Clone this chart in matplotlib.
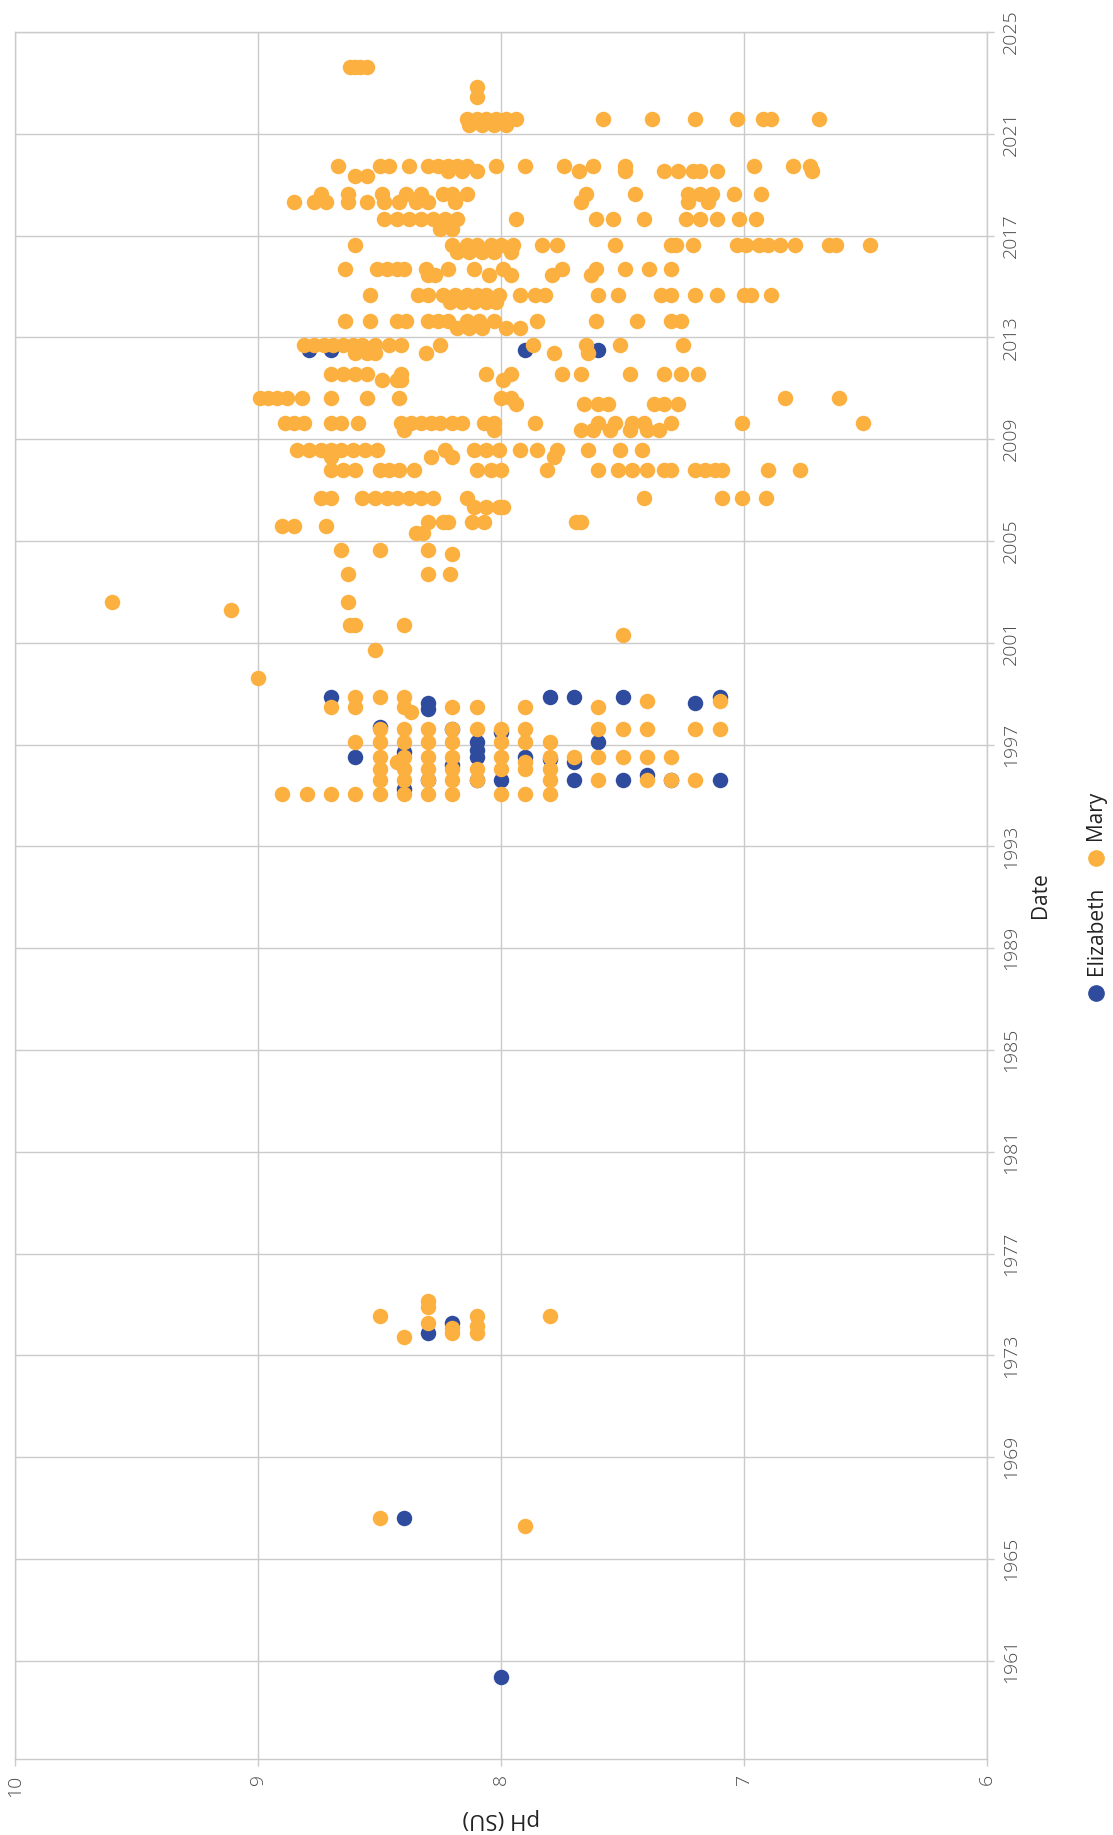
import numpy as np
import matplotlib.pyplot as plt
from matplotlib.lines import Line2D

# sampling dates (decimal years) and pH readings per date
mary_row_dates = [
    2023.62, 2022.84, 2022.44, 2021.59, 2021.33, 2019.72, 2019.52, 2019.36,
    2018.64, 2018.31, 2017.66, 2017.26, 2016.65, 2016.35, 2015.68, 2015.45,
    2014.67, 2014.40, 2013.64, 2013.35, 2012.70, 2012.37, 2011.58, 2011.32,
    2010.60, 2010.40, 2009.62, 2009.35, 2008.59, 2008.30, 2007.78, 2006.70,
    2006.35, 2005.76, 2005.60, 2005.30, 2004.63, 2004.48, 2003.69, 2002.59,
    2002.29, 2001.68, 2001.31, 2000.70, 1999.63,
    1998.87, 1998.70, 1998.48, 1998.30, 1997.63, 1997.10, 1996.52, 1996.30,
    1996.06, 1995.60, 1995.07,
    1975.15, 1974.89, 1974.53, 1974.27, 1974.14, 1974.07, 1973.88, 1973.71,
    1966.60, 1966.28,
]
mary_row_ph = [
    [8.62, 8.60, 8.58, 8.55],
    [8.10],
    [8.10],
    [8.14, 8.10, 8.06, 8.02, 7.98, 7.94, 7.58, 7.38, 7.20, 7.03, 6.92, 6.89, 6.69],
    [8.13, 8.08, 8.03, 7.98],
    [8.67, 8.50, 8.46, 8.38, 8.30, 8.26, 8.22, 8.18, 8.14, 8.02, 7.90, 7.74, 7.62, 7.49, 6.96, 6.80, 6.73],
    [8.22, 8.16, 8.10, 7.68, 7.49, 7.33, 7.27, 7.21, 7.18, 7.11, 6.72],
    [8.60, 8.55],
    [8.74, 8.63, 8.49, 8.39, 8.33, 8.24, 8.20, 8.14, 7.65, 7.45, 7.23, 7.18, 7.13, 7.04, 6.93],
    [8.85, 8.77, 8.72, 8.63, 8.55, 8.48, 8.42, 8.35, 8.30, 8.19, 7.67, 7.23, 7.15],
    [8.48, 8.43, 8.38, 8.33, 8.28, 8.23, 8.18, 7.94, 7.61, 7.54, 7.41, 7.24, 7.18, 7.11, 7.02, 6.95],
    [8.25, 8.20],
    [8.60, 8.20, 8.14, 8.10, 8.04, 8.00, 7.95, 7.83, 7.77, 7.53, 7.30, 7.28, 7.21, 7.03, 6.99, 6.94,
     6.90, 6.85, 6.79, 6.65, 6.62, 6.48],
    [8.18, 8.13, 8.08, 8.03, 7.96],
    [8.64, 8.51, 8.47, 8.43, 8.40, 8.31, 8.22, 8.11, 7.99, 7.75, 7.61, 7.49, 7.39, 7.30],
    [8.30, 8.27, 8.05, 7.96, 7.79, 7.63],
    [8.54, 8.34, 8.30, 8.24, 8.19, 8.14, 8.10, 8.06, 8.01, 7.92, 7.86, 7.82, 7.60, 7.52, 7.34, 7.30,
     7.20, 7.11, 7.00, 6.97, 6.89],
    [8.21, 8.16, 8.11, 8.06, 8.02],
    [8.64, 8.54, 8.43, 8.39, 8.30, 8.26, 8.22, 8.14, 8.09, 8.03, 7.85, 7.61, 7.44, 7.30, 7.26],
    [8.18, 8.13, 8.08, 7.98, 7.92],
    [8.81, 8.77, 8.73, 8.69, 8.65, 8.61, 8.57, 8.52, 8.46, 8.41, 8.25, 7.87, 7.65, 7.51, 7.25],
    [8.60, 8.55, 8.52, 8.31, 7.78, 7.64],
    [8.70, 8.65, 8.60, 8.55, 8.41, 8.06, 7.96, 7.75, 7.67, 7.47, 7.33, 7.26, 7.19],
    [8.49, 8.43, 8.41, 7.99],
    [8.99, 8.96, 8.92, 8.88, 8.82, 8.70, 8.55, 8.42, 8.00, 7.96, 6.83, 6.61],
    [7.94, 7.66, 7.60, 7.56, 7.37, 7.33, 7.27],
    [8.89, 8.85, 8.81, 8.70, 8.66, 8.59, 8.41, 8.37, 8.33, 8.29, 8.25, 8.20, 8.16, 8.07, 8.03, 7.86,
     7.60, 7.53, 7.46, 7.41, 7.30, 7.01, 6.51],
    [8.40, 8.03, 7.67, 7.62, 7.55, 7.47, 7.40, 7.35],
    [8.84, 8.79, 8.74, 8.70, 8.66, 8.61, 8.56, 8.51, 8.23, 8.11, 8.06, 8.01, 7.92, 7.85, 7.77, 7.64,
     7.51, 7.42],
    [8.70, 8.29, 8.20, 7.78],
    [8.70, 8.65, 8.60, 8.50, 8.46, 8.42, 8.36, 8.10, 8.04, 8.00, 7.81, 7.60, 7.52, 7.46, 7.40, 7.33,
     7.30, 7.20, 7.16, 7.12, 7.09, 6.90, 6.77],
    [8.74, 8.70, 8.57, 8.52, 8.47, 8.43, 8.38, 8.33, 8.28, 8.14, 7.41, 7.09, 7.01, 6.91],
    [8.11, 8.06, 8.01, 7.99],
    [8.30, 8.24, 8.22, 8.12, 8.07, 7.69, 7.67],
    [8.90, 8.85, 8.72],
    [8.35, 8.32],
    [8.66, 8.50, 8.30],
    [8.20],
    [8.63, 8.30, 8.21],
    [9.60, 8.63],
    [9.11],
    [8.62, 8.60, 8.40],
    [7.50],
    [8.52],
    [9.00],
    [8.60, 8.50, 8.40],
    [7.40, 7.10],
    [8.70, 8.60, 8.40, 8.20, 8.10, 7.90, 7.60],
    [8.37],
    [8.50, 8.40, 8.30, 8.20, 8.10, 8.00, 7.90, 7.60, 7.50, 7.40, 7.20, 7.10],
    [8.60, 8.50, 8.40, 8.30, 8.20, 8.00, 7.90, 7.80],
    [8.50, 8.40, 8.30, 8.20, 8.00, 7.80, 7.70, 7.60, 7.50, 7.40, 7.30],
    [8.43, 7.90],
    [8.50, 8.40, 8.30, 8.20, 8.10, 8.00, 7.90, 7.80],
    [8.50, 8.40, 8.30, 8.20, 8.10, 7.80, 7.60, 7.40, 7.30, 7.20],
    [8.90, 8.80, 8.70, 8.60, 8.50, 8.40, 8.30, 8.20, 8.00, 7.90, 7.80],
    [8.30],
    [8.30],
    [8.50, 8.10, 7.80],
    [8.30],
    [8.10],
    [8.20],
    [8.20, 8.10],
    [8.40],
    [8.50],
    [7.90],
]

elizabeth_row_dates = [
    2012.50, 1998.87, 1998.65, 1998.40, 1997.70, 1997.63, 1997.50, 1997.10,
    1996.80, 1996.70, 1996.52, 1996.45, 1996.30, 1996.20, 1995.80, 1995.60,
    1995.25, 1974.27, 1973.88, 1966.60, 1960.36,
]
elizabeth_row_ph = [
    [8.79, 8.70, 7.90, 7.60],
    [8.70, 7.80, 7.70, 7.50, 7.10],
    [8.30, 7.20],
    [8.30],
    [8.50],
    [8.20],
    [8.00],
    [8.10, 7.60],
    [8.10],
    [8.40],
    [8.60, 8.10, 7.90],
    [7.80],
    [7.70],
    [8.20],
    [7.40],
    [8.30, 8.10, 8.00, 7.70, 7.50, 7.30, 7.10],
    [8.40],
    [8.20],
    [8.30],
    [8.40],
    [8.00],
]

year_ticks = list(range(1961, 2026, 4))
ph_ticks = [10, 9, 8, 7, 6]

MARY_COLOR = "#FBB040"
ELIZ_COLOR = "#2F4B9D"
GRID = "#cbcbcb"
W, H = 1113, 1835


def expand(dates, rows):
    xs, ys = [], []
    for d, vals in zip(dates, rows):
        for v in vals:
            xs.append(v)
            ys.append(d)
    return np.array(xs), np.array(ys)


def main():
    plt.rcParams["font.family"] = ["Open Sans", "DejaVu Sans"]
    fig = plt.figure(figsize=(W / 100, H / 100), dpi=100)
    left, right, top, bottom = 15, 987, 32, 1759
    ax = fig.add_axes([left / W, 1 - bottom / H, (right - left) / W, (bottom - top) / H])

    ex, ey = expand(elizabeth_row_dates, elizabeth_row_ph)
    mx, my = expand(mary_row_dates, mary_row_ph)
    ax.scatter(ex, ey, s=124, color=ELIZ_COLOR, linewidths=0, zorder=3)
    ax.scatter(mx, my, s=124, color=MARY_COLOR, linewidths=0, zorder=4)

    ax.set_xlim(10, 6)
    ax.set_ylim(1957.14, 2025)
    ax.set_xticks(ph_ticks)
    ax.set_xticklabels([str(t) for t in ph_ticks])
    ax.set_yticks(year_ticks)
    ax.set_yticklabels([str(t) for t in year_ticks])
    ax.yaxis.tick_right()
    ax.grid(True, color=GRID, linewidth=1.0)
    ax.set_axisbelow(True)
    for sp in ax.spines.values():
        sp.set_color(GRID)
        sp.set_linewidth(1.0)

    ax.tick_params(axis="y", direction="out", length=5, width=1.0, color=GRID,
                   labelsize=14, labelcolor="#4a4a4a", pad=6)
    ax.tick_params(axis="x", direction="out", length=5, width=1.0, color=GRID,
                   labelsize=14, labelcolor="#4a4a4a", pad=6)
    for lab in ax.get_yticklabels():
        lab.set_rotation(90)
        lab.set_va("center")
        lab.set_ha("left")
        lab.set_fontweight("light")
    for lab in ax.get_xticklabels():
        lab.set_rotation(90)
        lab.set_ha("center")
        lab.set_va("top")
        lab.set_fontweight("light")

    # axis titles (chart is turned a quarter turn)
    fig.text(1041 / W, 1 - 895 / H, "Date", rotation=90, ha="center", va="center",
             fontsize=15, color="#222222")
    fig.text(501 / W, 1 - 1818 / H, "pH (SU)", rotation=180, ha="center", va="center",
             fontsize=16, color="#222222")

    # legend
    lx = 1096
    for cy, text_bottom, name, col in [(993, 975, "Elizabeth", ELIZ_COLOR),
                                       (858, 840, "Mary", MARY_COLOR)]:
        fig.add_artist(Line2D([lx / W], [1 - cy / H], marker="o", markersize=11,
                              color=col, linestyle="none", transform=fig.transFigure))
        fig.text(lx / W, 1 - text_bottom / H, name, rotation=90, ha="center", va="bottom",
                 fontsize=15, color="#222222")

    fig.savefig("out.png", dpi=100, facecolor="white")
    plt.close(fig)


if __name__ == "__main__":
    main()
